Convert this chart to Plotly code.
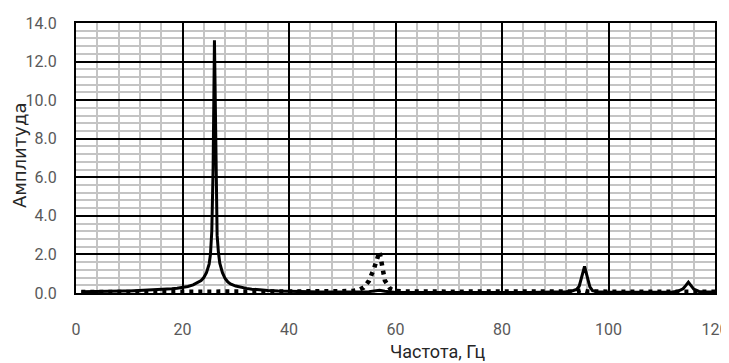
import plotly.graph_objects as go

# Solid series (frequency, Hz / amplitude)
solid_f = [1, 2, 3, 4, 5, 6, 7, 8, 9, 10, 11, 12, 13, 14, 15, 16, 17, 18, 19, 20,
           21, 22, 23, 23.5, 24, 24.5, 25, 25.25, 25.5, 25.75, 26, 26.25, 26.5, 26.75,
           27, 27.5, 28, 28.5, 29, 30, 31, 32, 33, 34, 35, 36, 38, 40, 42, 44, 46, 48,
           50, 52, 54, 55, 56, 57, 58, 59, 60, 65, 70, 75, 80, 85, 90, 92, 93, 94, 94.5,
           95, 95.5, 96, 96.5, 97, 98, 100, 105, 110, 112, 113, 114, 114.5, 115, 115.5,
           116, 117, 118, 120]
solid_a = [0.06, 0.07, 0.07, 0.08, 0.08, 0.09, 0.09, 0.10, 0.11, 0.11, 0.12, 0.13, 0.14, 0.15, 0.16, 0.18, 0.20, 0.22, 0.25, 0.29,
           0.34, 0.42, 0.55, 0.65, 0.80, 1.05, 1.50, 2.00, 3.20, 6.50, 13.10, 6.20, 3.00, 2.10,
           1.55, 1.05, 0.75, 0.58, 0.47, 0.36, 0.29, 0.24, 0.20, 0.17, 0.15, 0.13, 0.10, 0.08, 0.07, 0.06, 0.05, 0.05,
           0.04, 0.04, 0.05, 0.07, 0.11, 0.14, 0.09, 0.05, 0.03, 0.03, 0.02, 0.02, 0.02, 0.03, 0.04, 0.06, 0.09, 0.18, 0.35,
           0.85, 1.38, 0.85, 0.32, 0.12, 0.06, 0.04, 0.03, 0.04, 0.05, 0.09, 0.22, 0.38, 0.56, 0.38,
           0.20, 0.08, 0.05, 0.05]

# Dotted series
dot_f = [1, 10, 20, 30, 40, 50, 52, 53, 54, 55, 56, 57, 58, 59, 60, 62, 70, 80, 90,
         94, 95, 96, 100, 110, 114, 115, 116, 120]
dot_a = [0.05, 0.05, 0.06, 0.07, 0.08, 0.09, 0.11, 0.15, 0.28, 0.62, 1.30, 2.15, 0.65, 0.22, 0.10, 0.08, 0.07, 0.07, 0.07,
         0.08, 0.15, 0.08, 0.07, 0.07, 0.08, 0.10, 0.08, 0.07]

x_ticks = [0, 20, 40, 60, 80, 100, 120]
y_ticks = [0, 2, 4, 6, 8, 10, 12, 14]

NARROW = "Roboto, Liberation Sans, sans-serif"
TICK_FONT = dict(family=NARROW, size=16, color="#595959")

fig = go.Figure()
fig.add_trace(go.Scatter(x=solid_f, y=solid_a, mode="lines",
                         line=dict(color="black", width=3), showlegend=False))
fig.add_trace(go.Scatter(x=dot_f, y=dot_a, mode="lines",
                         line=dict(color="black", width=4.5, dash="4px,5px"), showlegend=False))

# the page places the figure 8px from the top-left corner of the window
fig.update_layout(
    width=721, height=355,
    margin=dict(l=68, r=14, t=15, b=70, autoexpand=False),
    paper_bgcolor="white", plot_bgcolor="white",
    showlegend=False,
)
fig.update_xaxes(
    range=[0, 120], tickvals=x_ticks, ticktext=[str(v) for v in x_ticks],
    showgrid=True, gridcolor="black", gridwidth=2,
    minor=dict(dtick=4, showgrid=True, gridcolor="#c4c4c4", gridwidth=1.5),
    showline=True, linecolor="black", linewidth=2, mirror=True,
    ticks="", tickfont=TICK_FONT, ticklabelstandoff=21, zeroline=False, automargin=False,
    ticklabeloverflow="allow",
)
fig.update_yaxes(
    range=[0, 14], tickvals=y_ticks, ticktext=[f"{v:.1f}" for v in y_ticks],
    showgrid=True, gridcolor="black", gridwidth=2,
    minor=dict(dtick=0.4, showgrid=True, gridcolor="#c4c4c4", gridwidth=1.5),
    showline=True, linecolor="black", linewidth=2, mirror=True,
    ticks="", tickfont=TICK_FONT, ticklabelstandoff=14, zeroline=False, automargin=False,
    ticklabeloverflow="allow",
)
fig.add_annotation(text="Частота, Гц", xref="paper", yref="paper", x=0.565, y=-0.218,
                   xanchor="center", yanchor="middle", showarrow=False,
                   font=dict(family=NARROW, size=18, color="#262626"))
fig.add_annotation(text="Амплитуда", xref="paper", yref="paper", x=-0.088, y=0.51,
                   xanchor="center", yanchor="middle", showarrow=False, textangle=-90,
                   font=dict(family="DejaVu Sans, sans-serif", size=18, color="#262626"))

fig.write_html("out.html")
